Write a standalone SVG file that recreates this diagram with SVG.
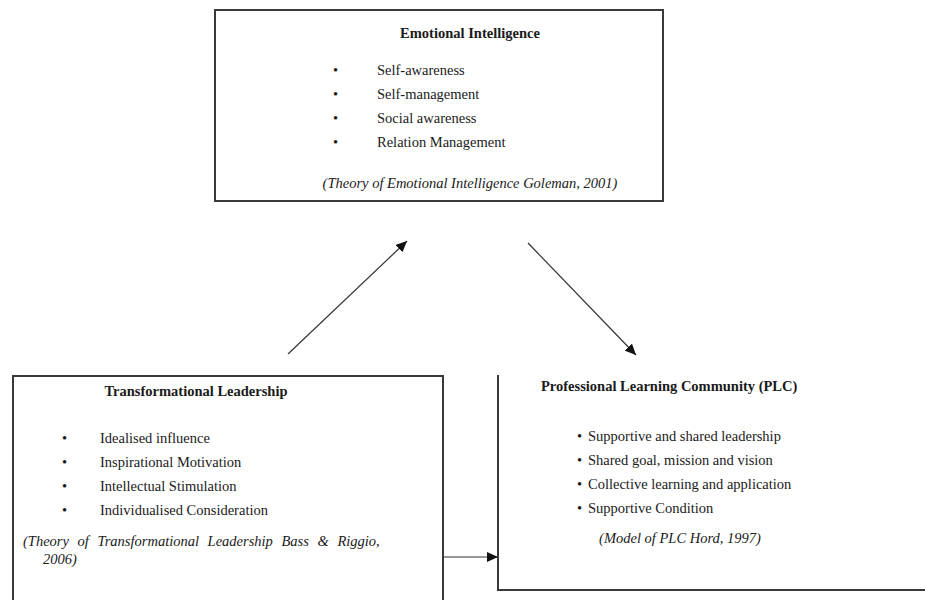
<svg xmlns="http://www.w3.org/2000/svg" width="925" height="600" viewBox="0 0 925 600">
  <style>
    .box { fill: none; stroke: #3a3a3a; stroke-width: 2; }
    .t { font-family: "Liberation Serif", "DejaVu Serif", serif; font-size: 14.5px; fill: #1a1a1a; }
    .h { font-weight: bold; }
    .i { font-style: italic; }
    .c { stroke: #333; stroke-width: 1.2; fill: none; }
  </style>
  <defs>
    <marker id="ah" markerUnits="userSpaceOnUse" markerWidth="12" markerHeight="10" refX="11" refY="5" orient="auto">
      <path d="M0,0 L11,5 L0,10 Z" fill="#111"/>
    </marker>
  </defs>
  <rect width="925" height="600" fill="#fff"/>

  <g id="emotional-intelligence">
    <rect class="box" x="215" y="10" width="448" height="191"/>
    <text class="t h" x="470" y="38" text-anchor="middle">Emotional Intelligence</text>
    <text class="t" x="333" y="75">•</text>
    <text class="t" x="377" y="75">Self-awareness</text>
    <text class="t" x="333" y="99">•</text>
    <text class="t" x="377" y="99">Self-management</text>
    <text class="t" x="333" y="123">•</text>
    <text class="t" x="377" y="123">Social awareness</text>
    <text class="t" x="333" y="147">•</text>
    <text class="t" x="377" y="147">Relation Management</text>
    <text class="t i" x="470" y="188" text-anchor="middle">(Theory of Emotional Intelligence Goleman, 2001)</text>
  </g>

  <g id="transformational-leadership">
    <path class="box" d="M13,602 V376 H443 V602"/>
    <text class="t h" x="196" y="396" text-anchor="middle">Transformational Leadership</text>
    <text class="t" x="62" y="443">•</text>
    <text class="t" x="100" y="443">Idealised influence</text>
    <text class="t" x="62" y="467">•</text>
    <text class="t" x="100" y="467">Inspirational Motivation</text>
    <text class="t" x="62" y="491">•</text>
    <text class="t" x="100" y="491">Intellectual Stimulation</text>
    <text class="t" x="62" y="515">•</text>
    <text class="t" x="100" y="515">Individualised Consideration</text>
    <text class="t i" x="23" y="546" word-spacing="5">(Theory of Transformational Leadership Bass &amp; Riggio,</text>
    <text class="t i" x="43" y="564">2006)</text>
  </g>

  <g id="plc">
    <path class="box" d="M498,375 V590 H927"/>
    <text class="t h" x="541" y="391">Professional Learning Community (PLC)</text>
    <text class="t" x="577" y="441">•</text>
    <text class="t" x="588" y="441">Supportive and shared leadership</text>
    <text class="t" x="577" y="465">•</text>
    <text class="t" x="588" y="465">Shared goal, mission and vision</text>
    <text class="t" x="577" y="489">•</text>
    <text class="t" x="588" y="489">Collective learning and application</text>
    <text class="t" x="577" y="513">•</text>
    <text class="t" x="588" y="513">Supportive Condition</text>
    <text class="t i" x="680" y="543" text-anchor="middle">(Model of PLC Hord, 1997)</text>
  </g>

  <g id="connectors">
    <line class="c" x1="288" y1="354" x2="407" y2="241" marker-end="url(#ah)"/>
    <line class="c" x1="528" y1="243" x2="636" y2="355" marker-end="url(#ah)"/>
    <line class="c" x1="443" y1="557" x2="498" y2="557" marker-end="url(#ah)"/>
  </g>
</svg>
